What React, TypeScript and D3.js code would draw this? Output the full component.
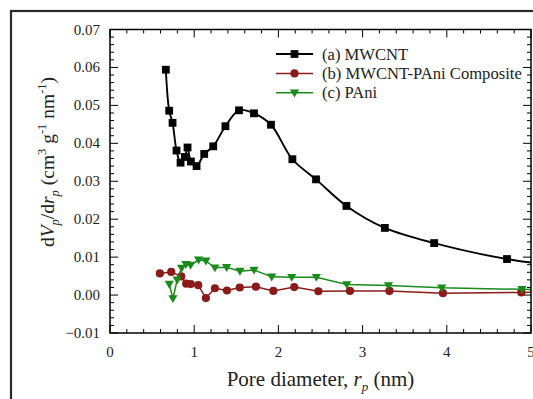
import React from "react";
import * as d3 from "d3";

const mwcntX = [0.663, 0.703, 0.743, 0.79, 0.838, 0.889, 0.921, 0.961, 1.028, 1.119, 1.226, 1.371, 1.532, 1.71, 1.912, 2.166, 2.447, 2.808, 3.264, 3.85, 4.715, 5.55];
const mwcntY = [0.0594, 0.0486, 0.0454, 0.0381, 0.0349, 0.0364, 0.0389, 0.0352, 0.034, 0.0372, 0.0392, 0.0445, 0.0487, 0.0479, 0.0449, 0.0358, 0.0305, 0.0235, 0.0177, 0.0137, 0.0095, 0.0072];

const compX = [0.592, 0.727, 0.846, 0.905, 0.959, 1.048, 1.139, 1.246, 1.389, 1.541, 1.733, 1.94, 2.188, 2.475, 2.85, 3.319, 3.954, 4.885, 5.5];
const compY = [0.0057, 0.0061, 0.0049, 0.003, 0.0029, 0.0026, -0.0008, 0.0018, 0.0012, 0.002, 0.0022, 0.0011, 0.0021, 0.001, 0.0011, 0.0011, 0.0005, 0.0007, 0.0009];

const paniX = [0.704, 0.747, 0.798, 0.85, 0.901, 0.957, 1.052, 1.139, 1.246, 1.385, 1.543, 1.71, 1.92, 2.158, 2.451, 2.812, 3.307, 3.94, 4.893, 5.5];
const paniY = [0.0029, -0.0009, 0.004, 0.0071, 0.0081, 0.0079, 0.0093, 0.009, 0.0072, 0.0073, 0.0063, 0.0066, 0.0048, 0.0047, 0.0047, 0.0028, 0.0025, 0.0019, 0.0015, 0.0012];

const legendLabels = ["(a) MWCNT", "(b) MWCNT-PAni Composite", "(c) PAni"];
const xTicks = [0, 1, 2, 3, 4, 5];
const yTicks = [-0.01, 0, 0.01, 0.02, 0.03, 0.04, 0.05, 0.06, 0.07];

const W = 533, H = 399;
const L = 110, R = 531, T = 29.5, B = 333;
const FONT = "Liberation Serif, Times New Roman, serif";

export default function App() {
  const x = d3.scaleLinear().domain([0, 5]).range([L, R]);
  const y = d3.scaleLinear().domain([-0.01, 0.07]).range([B, T]);

  const toPts = (xs: number[], ys: number[]) => xs.map((v, i) => [v, ys[i]] as [number, number]);
  const series = [
    { pts: toPts(mwcntX, mwcntY), color: "#000000", shape: "square", curve: d3.curveCatmullRom.alpha(0.5), sw: 1.9 },
    { pts: toPts(compX, compY), color: "#8b1a1a", shape: "circle", curve: d3.curveLinear, sw: 1.5 },
    { pts: toPts(paniX, paniY), color: "#1a8a1a", shape: "tri", curve: d3.curveLinear, sw: 1.5 },
  ];

  const marker = (shape: string, cx: number, cy: number, color: string, key: any) => {
    if (shape === "square") return <rect key={key} x={cx - 3.9} y={cy - 3.9} width={7.8} height={7.8} fill={color} />;
    if (shape === "circle") return <circle key={key} cx={cx} cy={cy} r={4.1} fill={color} />;
    return <path key={key} d={`M${cx - 4.6},${cy - 3.3}L${cx + 4.6},${cy - 3.3}L${cx},${cy + 4.6}Z`} fill={color} />;
  };

  const xMinor = d3.range(0, 5.001, 0.2);
  const yMinor = d3.range(-0.01, 0.0701, 0.002);
  const tStyle = { fontFamily: FONT };

  return (
    <svg width={W} height={H} style={{ position: "absolute", left: 0, top: 0, background: "#fff", fontFamily: FONT }}>
      <rect x={0} y={0} width={W} height={H} fill="#fff" />
      <rect x={11} y={11} width={W + 10} height={H + 10} fill="none" stroke="#2a2a2a" strokeWidth={2.2} />
      <defs>
        <clipPath id="plotclip">
          <rect x={L} y={T} width={R - L} height={B - T} />
        </clipPath>
      </defs>

      {xMinor.map((v, i) => {
        const major = Math.abs(v - Math.round(v)) < 1e-6;
        return (
          <g key={"xm" + i}>
            <line x1={x(v)} x2={x(v)} y1={B} y2={B - (major ? 8 : 4)} stroke="#000" strokeWidth={1} />
            <line x1={x(v)} x2={x(v)} y1={T} y2={T + (major ? 8 : 4)} stroke="#000" strokeWidth={1} />
          </g>
        );
      })}
      {yMinor.map((v, i) => {
        const major = i % 5 === 0;
        return (
          <g key={"ym" + i}>
            <line x1={L} x2={L + (major ? 8 : 4)} y1={y(v)} y2={y(v)} stroke="#000" strokeWidth={1} />
            <line x1={R} x2={R - (major ? 8 : 4)} y1={y(v)} y2={y(v)} stroke="#000" strokeWidth={1} />
          </g>
        );
      })}

      <g clipPath="url(#plotclip)">
        {series.map((s, si) => {
          const line = d3.line<[number, number]>().x(d => x(d[0])).y(d => y(d[1])).curve(s.curve);
          return (
            <g key={"s" + si}>
              <path d={line(s.pts) || ""} fill="none" stroke={s.color} strokeWidth={s.sw} />
              {s.pts.map((p, i) => marker(s.shape, x(p[0]), y(p[1]), s.color, i))}
            </g>
          );
        })}
      </g>

      <rect x={L} y={T} width={R - L} height={B - T} fill="none" stroke="#000" strokeWidth={1.5} />

      {xTicks.map(v => (
        <text key={"xt" + v} x={x(v)} y={357} textAnchor="middle" fontSize={15} fill="#222" style={tStyle}>{v}</text>
      ))}
      {yTicks.map(v => (
        <text key={"yt" + v} x={100} y={y(v) + 5} textAnchor="end" fontSize={15} fill="#222" style={tStyle}>{d3.format(".2f")(v)}</text>
      ))}

      {series.map((s, i) => {
        const ly = 54 + i * 19.4;
        return (
          <g key={"lg" + i}>
            <line x1={276} x2={313} y1={ly} y2={ly} stroke={s.color} strokeWidth={s.sw} />
            {marker(s.shape, 294.5, ly, s.color, "m")}
            <text x={322} y={ly + 5.5} fontSize={16.6} fill="#222" style={tStyle}>{legendLabels[i]}</text>
          </g>
        );
      })}

      <text x={(L + R) / 2} y={386} textAnchor="middle" fontSize={21} fill="#222" style={tStyle}>
        Pore diameter, <tspan fontStyle="italic">r</tspan><tspan fontStyle="italic" fontSize={13} dy={5}>p</tspan><tspan dy={-5}> (nm)</tspan>
      </text>
      <text transform={`translate(54,162) rotate(-90)`} textAnchor="middle" fontSize={19.5} fill="#222" style={tStyle}>
        d<tspan fontStyle="italic">V</tspan><tspan fontStyle="italic" fontSize={12.5} dy={5}>p</tspan><tspan dy={-5}>/d</tspan><tspan fontStyle="italic">r</tspan><tspan fontStyle="italic" fontSize={12.5} dy={5}>p</tspan><tspan dy={-5}> (cm</tspan><tspan fontSize={12.5} dy={-8}>3</tspan><tspan dy={8}> g</tspan><tspan fontSize={12.5} dy={-8}>-1</tspan><tspan dy={8}> nm</tspan><tspan fontSize={12.5} dy={-8}>-1</tspan><tspan dy={8}>)</tspan>
      </text>
    </svg>
  );
}
